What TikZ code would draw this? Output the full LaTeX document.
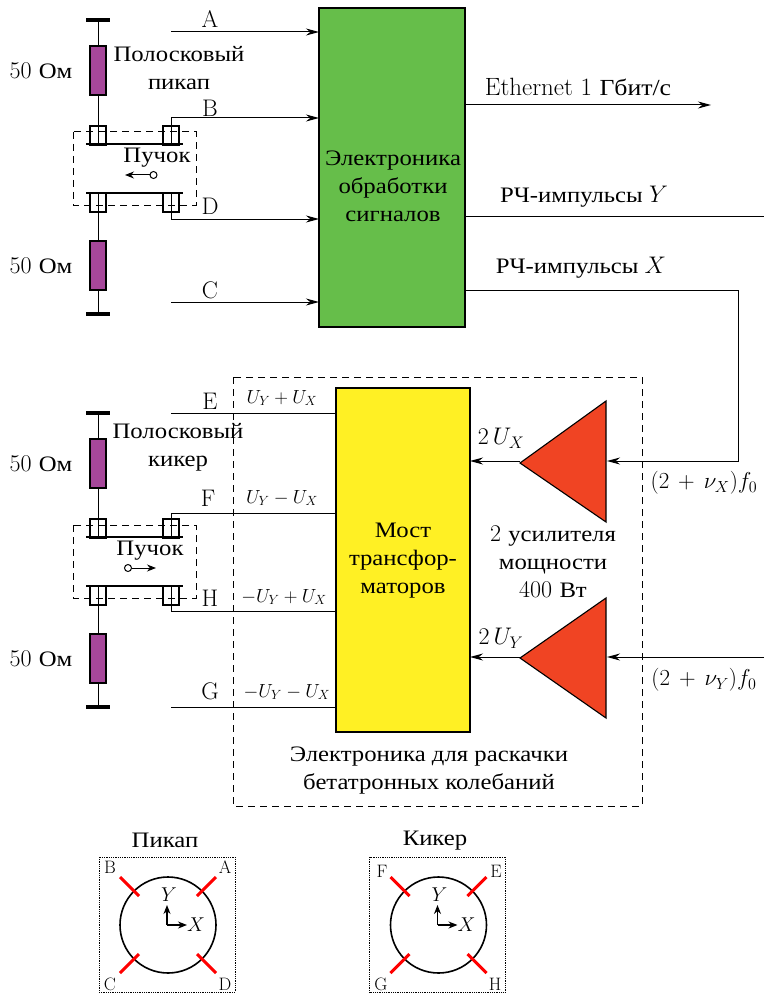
\documentclass[tikz,border=0pt]{standalone}
\usepackage{fix-cm}
\usepackage{fontspec}
\newfontfamily\ru[FakeStretch=1.12,Scale=0.92]{Liberation Serif}
\usetikzlibrary{arrows.meta}
\definecolor{procgreen}{HTML}{66BE4A}
\definecolor{bridgeyellow}{HTML}{FFF024}
\definecolor{ampred}{HTML}{F04423}
\definecolor{loadpurple}{HTML}{A6479A}
\tikzset{
	every node/.style={font=\fontsize{24}{28}\selectfont, inner sep=0pt, outer sep=0pt},
	line/.style={line width=1pt},
	>={Stealth[length=13pt,width=7pt]},
	block/.style={draw, line width=1.1pt, align=center},
	load/.style={draw, line width=1.1pt, fill=loadpurple, minimum width=16pt, minimum height=49pt},
	feed/.style={draw, line width=1.2pt, minimum width=16pt, minimum height=19pt},
	bar/.style={line width=3.4pt},
	plate/.style={line width=1.9pt},
	frame/.style={dashed, line width=1pt, dash pattern=on 7pt off 5pt},
	small/.style={font=\fontsize{18}{18}\selectfont},
	volt/.style={font=\fontsize{19}{19}\selectfont},
	cross/.style={red, line width=3pt},
	axis/.style={line width=1.2pt, -{Stealth[length=9pt,width=7pt]}}
}
\newcommand{\striplines}[2]{
	\begin{scope}[shift={(0,#2)}]
		\node[load] (#1rt) at (98,70.5) {};
		\node[load] (#1rb) at (98,265.5) {};
		\node[feed] (#1a) at (98,135.5) {};
		\node[feed] (#1b) at (171,135.5) {};
		\node[feed] (#1c) at (98,202.5) {};
		\node[feed] (#1d) at (171,202.5) {};
		\coordinate (#1gt) at (98,20);
		\coordinate (#1gb) at (98,314);
		\draw[bar] (86,20) -- (110,20);
		\draw[bar] (86,314) -- (110,314);
		\draw[line] (#1gt) -- (#1rt) -- (#1a.north);
		\draw[line] (#1c.south) -- (#1rb) -- (#1gb);
		\draw[line] (#1a.north) -- (#1a.south);
		\draw[line] (#1b.north) -- (#1b.south);
		\draw[line] (#1c.north) -- (#1c.south);
		\draw[line] (#1d.north) -- (#1d.south);
		\draw[plate] (86,144) -- (183,144);
		\draw[plate] (86,193) -- (183,193);
		\draw[frame] (73,132) rectangle (196,205);
		\node (#1ta) at (41,71) {50 {\ru Ом}};
		\node (#1tb) at (41,266) {50 {\ru Ом}};
	\end{scope}
}
\newcommand{\crosssection}[2]{
	\begin{scope}[shift={(#2,0)}]
		\draw[densely dotted, line width=0.8pt] (99,857) rectangle (235,992);
		\draw[line width=1.6pt] (168,925) circle (48);
		\draw[cross] (197,896) -- (216,877);
		\draw[cross] (197,954) -- (216,973);
		\draw[cross] (139,896) -- (120,877);
		\draw[cross] (139,954) -- (120,973);
		\coordinate (#1o) at (167,925);
		\coordinate (#1x) at (187,925);
		\coordinate (#1y) at (167,905);
		\draw[axis] (#1o) -- (#1x);
		\draw[axis] (#1o) -- (#1y);
		\node[font=\fontsize{20}{20}\selectfont] (#1tx) at (196,925) {$X$};
		\node[font=\fontsize{20}{20}\selectfont] (#1ty) at (169,895) {$Y$};
	\end{scope}
}
\begin{document}
\begin{tikzpicture}[x=1pt,y=-1pt]
	\useasboundingbox (0,0) rectangle (764,995);

	\node[block, fill=procgreen, minimum width=146pt, minimum height=319pt] (proc) at (392,167.5) {};
	\node[block, fill=bridgeyellow, minimum width=134pt, minimum height=344pt] (bridge) at (403,560) {};

	\striplines{pk}{0}
	\striplines{kk}{393}

	\node[align=center] (pktitle) at (179,68) {\ru Полосковый\\\ru пикап};
	\node[align=center] (kktitle) at (178,447) {\ru Полосковый\\\ru кикер};
	\node (pkbeam) at (157,158) {\ru Пучок};
	\node (kkbeam) at (150,551) {\ru Пучок};
	\node[draw, line width=1pt, circle, minimum size=7pt] (pkdot) at (153.5,175) {};
	\node[draw, line width=1pt, circle, minimum size=7pt] (kkdot) at (128,568) {};
	\coordinate (pkhead) at (125,175);
	\coordinate (kkhead) at (156,568);
	\draw[line, -{Stealth[length=9pt,width=7pt]}] (pkdot) -- (pkhead);
	\draw[line, -{Stealth[length=9pt,width=7pt]}] (kkdot) -- (kkhead);

	\coordinate (pka) at (171,32);
	\coordinate (pkbc) at (171,118);
	\coordinate (pkdc) at (171,219);
	\coordinate (pkcc) at (171,302);
	\draw[line, ->] (pka) -- (proc.west |- pka);
	\draw[line, ->] (pkb.north) -- (pkbc) -- (proc.west |- pkbc);
	\draw[line, ->] (pkd.south) -- (pkdc) -- (proc.west |- pkdc);
	\draw[line, ->] (pkcc) -- (proc.west |- pkcc);
	\node (la) at (210,19) {A};
	\node (lb) at (210,108) {B};
	\node (ld) at (210,206) {D};
	\node (lc) at (210,290) {C};

	\coordinate (kke) at (171,413);
	\coordinate (kkfc) at (171,513);
	\coordinate (kkhc) at (171,611);
	\coordinate (kkg) at (171,707);
	\draw[line] (kke) -- (bridge.west |- kke);
	\draw[line] (kkb.north) -- (kkfc) -- (bridge.west |- kkfc);
	\draw[line] (kkd.south) -- (kkhc) -- (bridge.west |- kkhc);
	\draw[line] (kkg) -- (bridge.west |- kkg);
	\node (le) at (210,401) {E};
	\node (lf) at (208,498) {F};
	\node (lh) at (210,598) {H};
	\node (lg) at (210,691) {G};
	\node[volt] (ue) at (282,398) {$U_Y + U_X$};
	\node[volt] (uf) at (282,498) {$U_Y - U_X$};
	\node[volt] (uh) at (284,597) {$-U_Y + U_X$};
	\node[volt] (ug) at (287,692) {$-U_Y - U_X$};

	\node[align=center] (proclabel) at (393,186) {\ru Электроника\\\ru обработки\\\ru сигналов};
	\node[align=center] (bridgelabel) at (403,561) {\ru Мост\\\ru трансфор-\\\ru маторов};

	\coordinate (ethstart) at (465,105);
	\coordinate (ethend) at (711,105);
	\coordinate (rfystart) at (465,216);
	\coordinate (rfyend) at (764,216);
	\coordinate (rfxstart) at (465,290);
	\coordinate (rfxcorner) at (738,290);
	\draw[line, ->] (ethstart) -- (ethend);
	\draw[line] (rfystart) -- (rfyend);
	\node[font=\fontsize{25}{28}\selectfont] (ethlabel) at (578,87) {Ethernet 1 {\ru Гбит/с}};
	\node (rfylabel) at (584,197) {\ru РЧ-импульсы \rm $Y$};
	\node (rfxlabel) at (581,268) {\ru РЧ-импульсы \rm $X$};

	\draw[fill=ampred, line width=1.1pt] (520,463) -- (606,401) -- (606,522) -- cycle;
	\draw[fill=ampred, line width=1.1pt] (520,658) -- (606,598) -- (606,718) -- cycle;
	\coordinate (ampxin) at (607,461);
	\coordinate (ampxout) at (520,461);
	\coordinate (ampyin) at (607,657);
	\coordinate (ampyout) at (520,657);
	\coordinate (rfyin) at (764,657);
	\draw[line, ->] (rfxstart) -- (rfxcorner) |- (ampxin);
	\draw[line, ->] (rfyin) -- (ampyin);
	\draw[line, ->] (ampxout) -- (bridge.east |- ampxout);
	\draw[line, ->] (ampyout) -- (bridge.east |- ampyout);
	\node (ux) at (501,438) {$2\,U_X$};
	\node (uy) at (501,638) {$2\,U_Y$};
	\node[font=\fontsize{23}{28}\selectfont] (fx) at (704,483) {$(2\,+\,\nu_X)f_0$};
	\node[font=\fontsize{23}{28}\selectfont] (fy) at (704,680) {$(2\,+\,\nu_Y)f_0$};
	\node[align=center] (amplabel) at (553,562) {2 {\ru усилителя}\\\ru мощности\\400 {\ru Вт}};

	\draw[frame] (233,377) rectangle (642,806);
	\node[align=center] (drivelabel) at (429,771) {\ru Электроника для раскачки\\\ru бетатронных колебаний};

	\crosssection{pc}{0}
	\crosssection{kc}{270.5}
	\node (pctitle) at (165,840) {\ru Пикап};
	\node (kctitle) at (435,841) {\ru Кикер};
	\node[small] (pca) at (225,867) {A};
	\node[small] (pcb) at (110,867) {B};
	\node[small] (pcc) at (110,984) {C};
	\node[small] (pcd) at (225,984) {D};
	\node[small] (kce) at (496,871) {E};
	\node[small] (kcf) at (382,871) {F};
	\node[small] (kcg) at (381,984) {G};
	\node[small] (kch) at (495,984) {H};
\end{tikzpicture}
\end{document}
